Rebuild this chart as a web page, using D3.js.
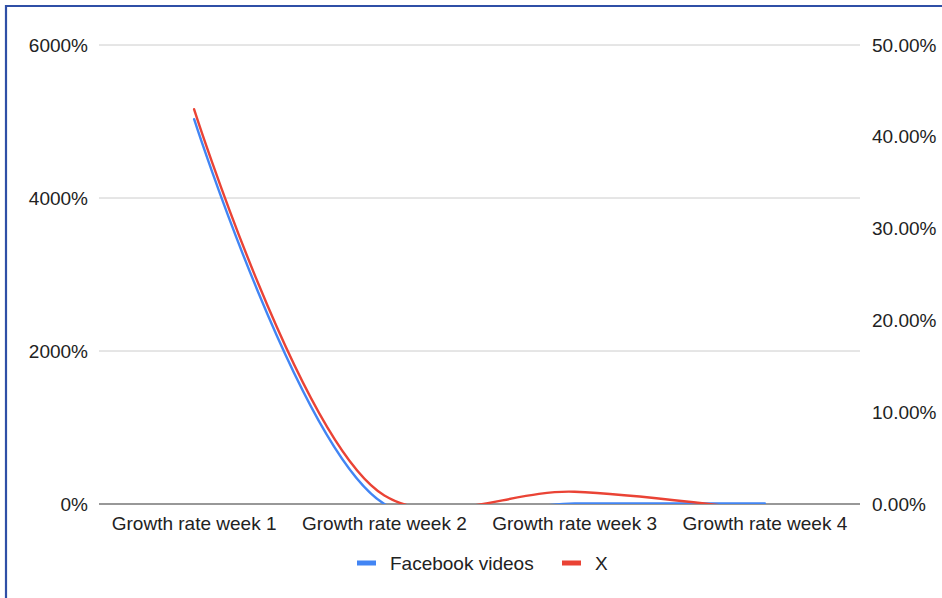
<!DOCTYPE html>
<html>
<head>
<meta charset="utf-8">
<script src="https://cdn.jsdelivr.net/npm/d3@7"></script>
<style>
  html, body { margin: 0; padding: 0; background: #fff; }
  svg { display: block; font-family: "Liberation Sans", Arial, Helvetica, sans-serif; }
</style>
</head>
<body>
<svg id="chart" width="942" height="598"></svg>
<script>
// Weekly growth rates (percent)
const categories = ["Growth rate week 1", "Growth rate week 2", "Growth rate week 3", "Growth rate week 4"];
const facebookVideos = [5030, 0, 8, 8];
const xSeries = [5160, 110, 160, -90];
const leftTicks = [0, 2000, 4000, 6000];
const rightTicks = [0, 10, 20, 30, 40, 50];
const seriesNames = ["Facebook videos", "X"];
const seriesColors = ["#4285f4", "#ea4335"];

const svg = d3.select("#chart");
const W = 942, H = 598;
const plot = { left: 99, right: 860, top: 45, bottom: 504 };

svg.append("rect").attr("width", W).attr("height", H).attr("fill", "#fff");

// frame
svg.append("line").attr("x1", 6).attr("x2", 6).attr("y1", 5).attr("y2", H)
  .attr("stroke", "#2f4fa6").attr("stroke-width", 2.2);
svg.append("line").attr("x1", 5).attr("x2", W).attr("y1", 6).attr("y2", 6)
  .attr("stroke", "#2f4fa6").attr("stroke-width", 2.2);

const x = d3.scaleBand().domain(categories).range([plot.left, plot.right]);
const yL = d3.scaleLinear().domain([0, 6000]).range([plot.bottom, plot.top]);
const yR = d3.scaleLinear().domain([0, 50]).range([plot.bottom, plot.top]);

// gridlines
svg.append("g").selectAll("line").data(leftTicks.filter(d => d > 0)).join("line")
  .attr("x1", plot.left).attr("x2", plot.right)
  .attr("y1", d => yL(d)).attr("y2", d => yL(d))
  .attr("stroke", "#cccccc").attr("stroke-width", 1);

// left axis labels
svg.append("g").selectAll("text").data(leftTicks).join("text")
  .attr("x", 88).attr("y", d => yL(d)).attr("dy", "0.35em")
  .attr("text-anchor", "end").attr("font-size", 19).attr("fill", "#222")
  .text(d => d + "%");

// right axis labels
svg.append("g").selectAll("text").data(rightTicks).join("text")
  .attr("x", 872).attr("y", d => yR(d)).attr("dy", "0.35em")
  .attr("text-anchor", "start").attr("font-size", 19).attr("fill", "#222")
  .text(d => d3.format(".2f")(d) + "%");

// category labels
svg.append("g").selectAll("text").data(categories).join("text")
  .attr("x", d => x(d) + x.bandwidth() / 2).attr("y", 530)
  .attr("text-anchor", "middle").attr("font-size", 19).attr("fill", "#222")
  .text(d => d);

// baseline
svg.append("line").attr("x1", plot.left).attr("x2", plot.right)
  .attr("y1", yL(0)).attr("y2", yL(0)).attr("stroke", "#333").attr("stroke-width", 1.2);

// clip to plot area
svg.append("clipPath").attr("id", "plotClip").append("rect")
  .attr("x", plot.left).attr("y", plot.top - 10)
  .attr("width", plot.right - plot.left).attr("height", plot.bottom - plot.top + 10);

const line = d3.line()
  .x((d, i) => x(categories[i]) + x.bandwidth() / 2)
  .y(d => yL(d))
  .curve(d3.curveCatmullRom.alpha(0.5));

const lines = svg.append("g").attr("clip-path", "url(#plotClip)");
[facebookVideos, xSeries].forEach((vals, i) => {
  lines.append("path").datum(vals)
    .attr("d", line).attr("fill", "none")
    .attr("stroke", seriesColors[i]).attr("stroke-width", 2.4)
    .attr("stroke-linejoin", "round").attr("stroke-linecap", "round");
});

// legend
const legendItems = [
  { name: seriesNames[0], color: seriesColors[0], x: 357 },
  { name: seriesNames[1], color: seriesColors[1], x: 562 }
];
const lg = svg.append("g").selectAll("g").data(legendItems).join("g")
  .attr("transform", d => `translate(${d.x},563)`);
lg.append("rect").attr("x", 0).attr("y", -2.5).attr("width", 19).attr("height", 5)
  .attr("fill", d => d.color);
lg.append("text").attr("x", 33).attr("y", 0).attr("dy", "0.35em")
  .attr("font-size", 19).attr("fill", "#222").text(d => d.name);
</script>
</body>
</html>
